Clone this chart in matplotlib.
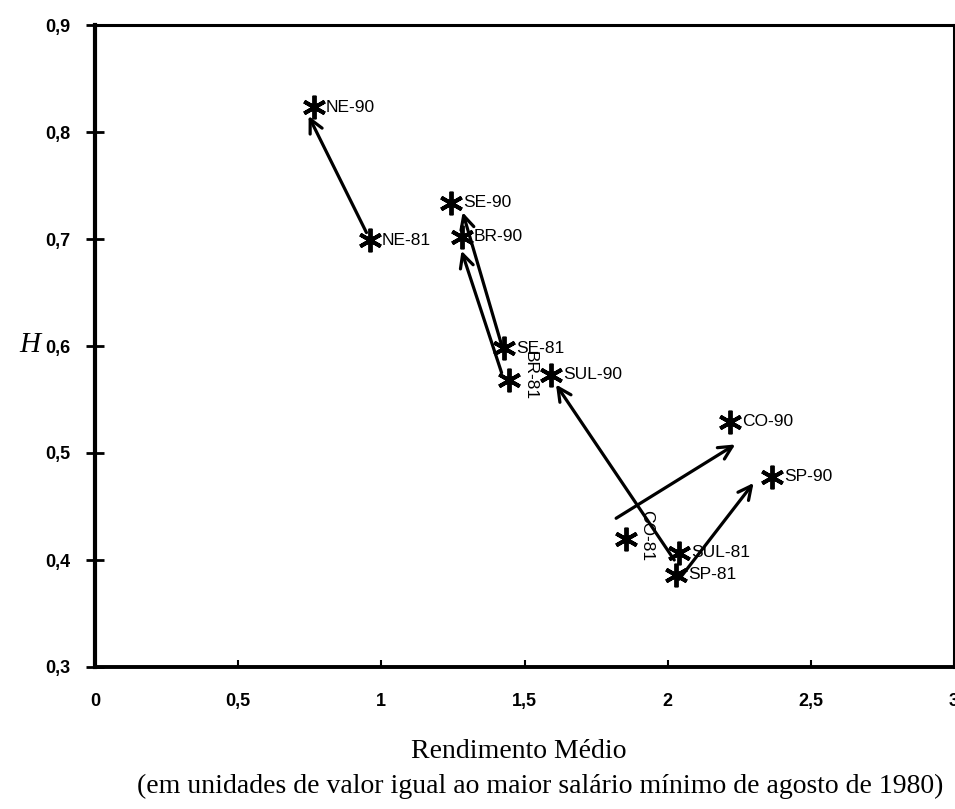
#!/usr/bin/env python3
import matplotlib
matplotlib.use('Agg')
import matplotlib.pyplot as plt

# --- data: (rendimento medio, H) per region, 1981 and 1990
labels = ['NE-90', 'NE-81', 'SE-90', 'BR-90', 'SE-81', 'BR-81',
          'SUL-90', 'CO-90', 'SP-90', 'CO-81', 'SUL-81', 'SP-81']
xs = [0.764, 0.959, 1.245, 1.280, 1.430, 1.447,
      1.594, 2.218, 2.365, 1.855, 2.040, 2.030]
ys = [0.823, 0.699, 0.734, 0.702, 0.598, 0.568,
      0.573, 0.529, 0.478, 0.420, 0.407, 0.386]
rotated = ['BR-81', 'CO-81']

# arrows 81 -> 90 (start x, start y, end x, end y)
arrow_x0 = [0.948, 1.420, 1.420, 2.023, 1.820, 2.040]
arrow_y0 = [0.706, 0.601, 0.575, 0.400, 0.439, 0.382]
arrow_x1 = [0.746, 1.284, 1.280, 1.610, 2.236, 2.300]
arrow_y1 = [0.815, 0.725, 0.689, 0.564, 0.508, 0.472]

xticks = [0, 0.5, 1, 1.5, 2, 2.5, 3]
xticklabels = ['0', '0,5', '1', '1,5', '2', '2,5', '3']
yticks = [0.3, 0.4, 0.5, 0.6, 0.7, 0.8, 0.9]
yticklabels = ['0,3', '0,4', '0,5', '0,6', '0,7', '0,8', '0,9']

fig = plt.figure(figsize=(9.55, 8.09), dpi=100)
ax = fig.add_axes([95/955, 142/809, 859/955, 642/809])
ax.set_xlim(0, 3)
ax.set_ylim(0.3, 0.9)

# --- markers
ax.plot(xs, ys, linestyle='none', marker=(6, 2, 0), markersize=17,
        markeredgewidth=2.8, color='black', zorder=3)

for lab, x, y in zip(labels, xs, ys):
    if lab in rotated:
        ax.text(x + 0.045, y + 0.027, lab, rotation=-90, ha='left', va='top',
                fontsize=12.5, family='Liberation Sans')
    else:
        ax.text(x + 0.042, y, lab, ha='left', va='center',
                fontsize=12.5, family='Liberation Sans')

# --- arrows
for x0, y0, x1, y1 in zip(arrow_x0, arrow_y0, arrow_x1, arrow_y1):
    ax.annotate('', xy=(x1, y1), xytext=(x0, y0),
                arrowprops=dict(arrowstyle='->', color='black', lw=2.3,
                                mutation_scale=24, shrinkA=0, shrinkB=0))

# --- axes styling
ax.set_xticks(xticks)
ax.set_xticklabels(xticklabels, fontsize=13, fontweight='bold',
                   family='Liberation Sans')
ax.set_yticks(yticks)
ax.set_yticklabels(yticklabels, fontsize=13, fontweight='bold',
                   family='Liberation Sans')
ax.tick_params(axis='x', direction='in', length=5, width=1.5, pad=19)
ax.tick_params(axis='y', direction='inout', length=13, width=2, pad=11)
ax.spines['left'].set_linewidth(3)
ax.spines['bottom'].set_linewidth(2.8)
ax.spines['top'].set_linewidth(2.2)
ax.spines['right'].set_linewidth(2.2)

fig.text(30/955, 1 - 345/809, 'H', fontsize=21, style='italic',
         family='Liberation Serif', ha='center', va='center')
fig.text(519/955, 1 - 752/809, 'Rendimento Médio', fontsize=20,
         family='Liberation Serif', ha='center', va='center')
fig.text(540/955, 1 - 786/809,
         '(em unidades de valor igual ao maior salário mínimo de agosto de 1980)',
         fontsize=20, family='Liberation Serif', ha='center', va='center')

fig.savefig('out.png', dpi=100)
